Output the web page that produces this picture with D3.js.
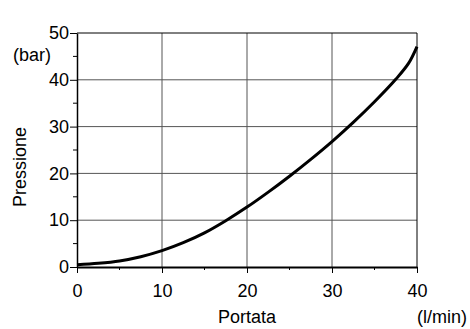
<!DOCTYPE html>
<html>
<head>
<meta charset="utf-8">
<script src="https://cdn.jsdelivr.net/npm/d3@7"></script>
<style>
  body { margin: 0; background: #fff; }
  svg { display: block; font-family: "Liberation Sans", Arial, sans-serif; }
</style>
</head>
<body>
<div id="svg-container"></div>
<script>
// dati
const flow = [0, 2.5, 5, 7.5, 10, 12.5, 15, 17.5, 20, 22.5, 25, 27.5, 30, 32.5, 35, 37.5, 39, 40];
const pressure = [0.5, 0.8, 1.3, 2.2, 3.5, 5.2, 7.3, 9.9, 12.8, 16.0, 19.4, 23.0, 26.8, 30.9, 35.3, 40.1, 43.5, 47.1];
const xTicks = [0, 10, 20, 30, 40];
const yTicks = [0, 10, 20, 30, 40, 50];
const xMinor = [5, 15, 25, 35];
const yMinor = [5, 15, 25, 35, 45];

const width = 470;
const height = 329;
const margin = { top: 33, right: 53, bottom: 62, left: 77 };
const fontSize = 18;

const svg = d3.select("#svg-container").append("svg")
  .attr("width", width).attr("height", height);

const xScale = d3.scaleLinear().domain([0, 40]).range([margin.left, width - margin.right]);
const yScale = d3.scaleLinear().domain([0, 50]).range([height - margin.bottom, margin.top]);

// griglia
svg.append("g").selectAll("line")
  .data(yTicks.slice(1, -1))
  .enter().append("line")
  .attr("x1", xScale(0)).attr("x2", xScale(40))
  .attr("y1", (d) => yScale(d)).attr("y2", (d) => yScale(d))
  .attr("stroke", "#555").attr("stroke-width", 1);

svg.append("g").selectAll("line")
  .data(xTicks.slice(1, -1))
  .enter().append("line")
  .attr("x1", (d) => xScale(d)).attr("x2", (d) => xScale(d))
  .attr("y1", yScale(0)).attr("y2", yScale(50))
  .attr("stroke", "#555").attr("stroke-width", 1);

// bordo sopra e a destra
svg.append("path")
  .attr("d", `M${xScale(0)},${yScale(50)}H${xScale(40)}V${yScale(0)}`)
  .attr("fill", "none").attr("stroke", "#000").attr("stroke-width", 1);

// assi
const xAxis = d3.axisBottom(xScale).tickValues(xTicks).tickSize(6).tickPadding(11).tickSizeOuter(0);
const yAxis = d3.axisLeft(yScale).tickValues(yTicks).tickSize(7).tickPadding(1).tickSizeOuter(0);

const gx = svg.append("g")
  .attr("transform", `translate(0,${yScale(0)})`)
  .call(xAxis);
gx.select(".domain").attr("stroke-width", 2);
gx.selectAll("text").attr("font-size", fontSize).attr("fill", "#000");

gx.selectAll(".minor")
  .data(xMinor)
  .enter().append("line")
  .attr("class", "minor")
  .attr("x1", (d) => xScale(d)).attr("x2", (d) => xScale(d))
  .attr("y1", 0).attr("y2", 3)
  .attr("stroke", "#000");

const gy = svg.append("g")
  .attr("transform", `translate(${xScale(0)},0)`)
  .call(yAxis);
gy.select(".domain").attr("stroke-width", 1.5);
gy.selectAll("text").attr("font-size", fontSize).attr("fill", "#000");

gy.selectAll(".minor")
  .data(yMinor)
  .enter().append("line")
  .attr("class", "minor")
  .attr("x1", -4).attr("x2", 0)
  .attr("y1", (d) => yScale(d)).attr("y2", (d) => yScale(d))
  .attr("stroke", "#000");

// curva
const line = d3.line()
  .x((d, i) => xScale(flow[i]))
  .y((d) => yScale(d))
  .curve(d3.curveCatmullRom.alpha(0.5));

svg.append("path")
  .datum(pressure)
  .attr("fill", "none")
  .attr("stroke", "#000")
  .attr("stroke-width", 3)
  .attr("d", line);

// etichette
svg.append("text")
  .attr("x", 13).attr("y", 61)
  .attr("font-size", fontSize)
  .text("(bar)");

svg.append("text")
  .attr("transform", `translate(26,167) rotate(-90)`)
  .attr("text-anchor", "middle")
  .attr("font-size", fontSize)
  .text("Pressione");

svg.append("text")
  .attr("x", xScale(20)).attr("y", 323)
  .attr("text-anchor", "middle")
  .attr("font-size", fontSize)
  .text("Portata");

svg.append("text")
  .attr("x", 467).attr("y", 323)
  .attr("text-anchor", "end")
  .attr("font-size", fontSize)
  .text("(l/min)");
</script>
</body>
</html>
